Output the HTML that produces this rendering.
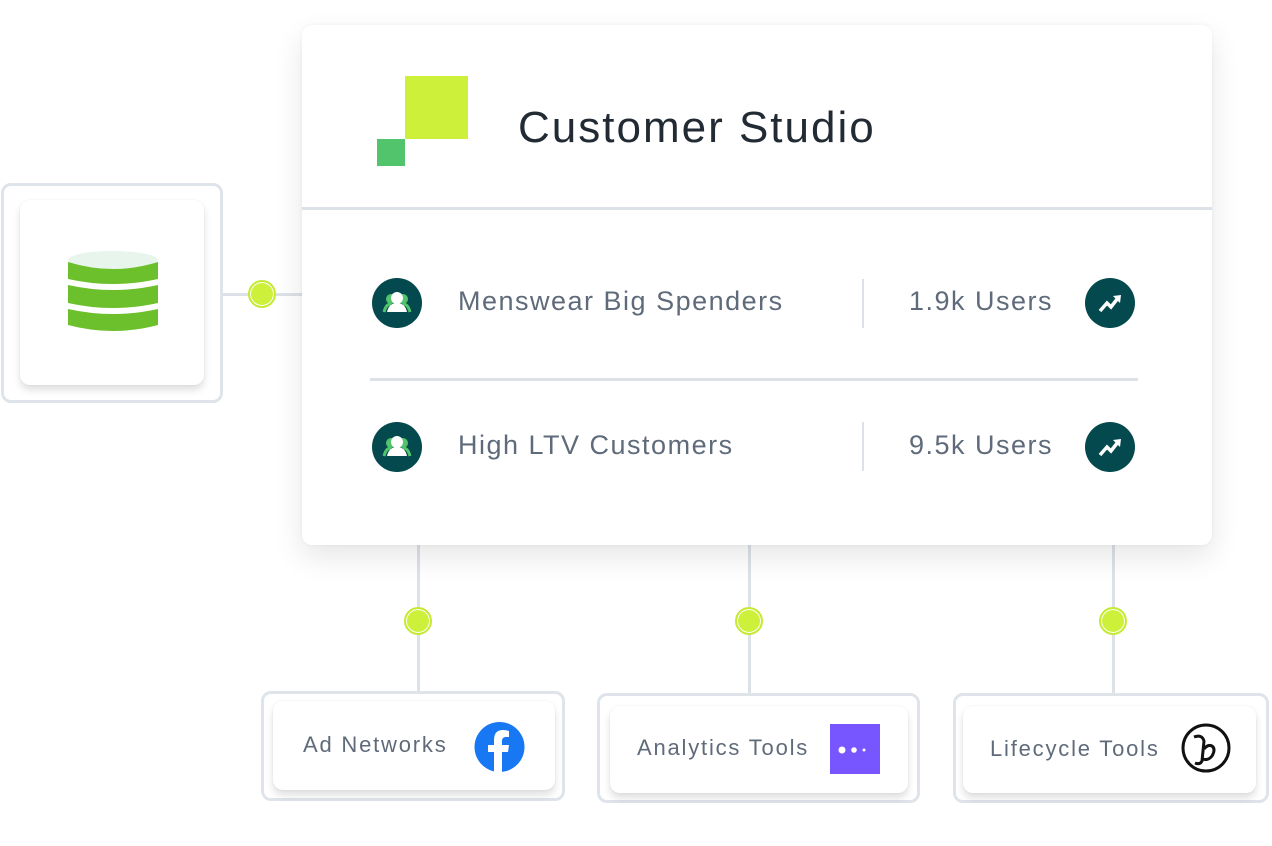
<!DOCTYPE html>
<html><head><meta charset="utf-8"><style>
body{margin:0;width:1272px;height:846px;background:#fff;position:relative;overflow:hidden;font-family:"Liberation Sans",sans-serif}
.a{position:absolute}
.outer{position:absolute;border:3px solid #dfe4ea;border-radius:10px;box-sizing:border-box;background:#fff}
.inner{position:absolute;background:#fff;border-radius:10px;box-shadow:0 5px 8px rgba(0,0,0,0.13),0 0 2px rgba(0,0,0,0.06);box-sizing:border-box}
.line{position:absolute;background:#dde2e8}
.dot{position:absolute;width:28px;height:28px;border-radius:50%;background:#cdf03a;border:2px solid #c6e936;box-shadow:inset 0 0 0 1px #fff;box-sizing:border-box}
.lbl{position:absolute;color:#5f6b7a;font-size:22px;letter-spacing:1.8px;white-space:nowrap}
.row{position:absolute;color:#5f6b7a;font-size:27px;letter-spacing:1.5px;white-space:nowrap}
.ic{position:absolute;width:50px;height:50px;border-radius:50%;background:#04494d}
</style></head><body>
<div class="line" style="left:222px;top:293px;width:82px;height:3px"></div>
<div class="line" style="left:417px;top:540px;width:3px;height:152px"></div>
<div class="line" style="left:748px;top:540px;width:3px;height:154px"></div>
<div class="line" style="left:1112px;top:540px;width:3px;height:154px"></div>

<div class="a" style="left:302px;top:25px;width:910px;height:520px;background:#fff;border-radius:10px;box-shadow:0 12px 30px rgba(0,0,0,0.10),0 0 4px rgba(0,0,0,0.05)"></div>
<div class="a" style="left:405px;top:76px;width:63px;height:63px;background:#cdf03a"></div>
<div class="a" style="left:377px;top:139px;width:28px;height:27px;background:#52c46b"></div>
<div class="a" style="left:518px;top:101px;font-size:44px;letter-spacing:2px;color:#222b33;line-height:54px;white-space:nowrap">Customer Studio</div>
<div class="line" style="left:302px;top:207px;width:910px;height:3px"></div>
<div class="line" style="left:370px;top:378px;width:768px;height:3px"></div>
<div class="line" style="left:862px;top:279px;width:2px;height:49px"></div>
<div class="line" style="left:862px;top:422px;width:2px;height:49px"></div>

<div class="ic" style="left:372px;top:278px"><svg width="50" height="50" viewBox="0 0 50 50"><circle cx="19" cy="21" r="5" fill="#52c46b"/><circle cx="31" cy="21" r="5" fill="#52c46b"/><path d="M12 34 q2-8 7-8 M38 34 q-2-8-7-8" stroke="#52c46b" stroke-width="3" fill="none"/><circle cx="25" cy="20" r="6" fill="#fff"/><path d="M15 34 q2-9 10-9 q8 0 10 9z" fill="#fff"/></svg></div>
<div class="ic" style="left:372px;top:422px"><svg width="50" height="50" viewBox="0 0 50 50"><circle cx="19" cy="21" r="5" fill="#52c46b"/><circle cx="31" cy="21" r="5" fill="#52c46b"/><path d="M12 34 q2-8 7-8 M38 34 q-2-8-7-8" stroke="#52c46b" stroke-width="3" fill="none"/><circle cx="25" cy="20" r="6" fill="#fff"/><path d="M15 34 q2-9 10-9 q8 0 10 9z" fill="#fff"/></svg></div>
<div class="row" style="left:458px;top:286px">Menswear Big Spenders</div>
<div class="row" style="left:458px;top:430px">High LTV Customers</div>
<div class="row" style="left:909px;top:286px">1.9k Users</div>
<div class="row" style="left:909px;top:430px">9.5k Users</div>
<div class="ic" style="left:1085px;top:278px"><svg width="50" height="50" viewBox="0 0 50 50"><path d="M15 33 L22 25 L26 29 L33 20" stroke="#fff" stroke-width="3.5" fill="none"/><path d="M28 18 L36 17 L35 25z" fill="#fff"/></svg></div>
<div class="ic" style="left:1085px;top:422px"><svg width="50" height="50" viewBox="0 0 50 50"><path d="M15 33 L22 25 L26 29 L33 20" stroke="#fff" stroke-width="3.5" fill="none"/><path d="M28 18 L36 17 L35 25z" fill="#fff"/></svg></div>

<div class="outer" style="left:1px;top:183px;width:222px;height:220px"></div>
<div class="inner" style="left:20px;top:200px;width:184px;height:185px"></div>
<svg class="a" style="left:66px;top:250px" width="94" height="85" viewBox="0 0 94 85"><ellipse cx="47" cy="10" rx="45" ry="9" fill="#e8f5ec"/><path d="M2 12 q45 14 90 0 v17 q-45 10-90 0z" fill="#6cc02b"/><path d="M2 35 q45 10 90 0 v18 q-45 10-90 0z" fill="#6cc02b"/><path d="M2 59 q45 10 90 0 v16 q-45 12-90 0z" fill="#6cc02b"/></svg>
<div class="dot" style="left:248px;top:280px"></div>

<div class="dot" style="left:404px;top:607px"></div>
<div class="dot" style="left:735px;top:607px"></div>
<div class="dot" style="left:1099px;top:607px"></div>

<div class="outer" style="left:261px;top:691px;width:304px;height:110px"></div>
<div class="inner" style="left:273px;top:701px;width:282px;height:89px"></div>
<div class="lbl" style="left:303px;top:732px">Ad Networks</div>
<svg class="a" style="left:473px;top:722px" width="53" height="50" viewBox="0 0 53 50"><circle cx="26.5" cy="25" r="25" fill="#1877f2"/><path d="M29 50 V30 h6 l1-7 h-7 v-4 q0-4 4-4 h3 v-6 q-3-1-6-1 q-9 0-9 10 v5 h-6 v7 h6 v20z" fill="#fff"/></svg>

<div class="outer" style="left:597px;top:693px;width:323px;height:110px"></div>
<div class="inner" style="left:610px;top:706px;width:298px;height:87px"></div>
<div class="lbl" style="left:637px;top:735px">Analytics Tools</div>
<div class="a" style="left:830px;top:724px;width:50px;height:50px;background:#7856ff"><svg width="50" height="50"><circle cx="12" cy="26" r="3.5" fill="#fff"/><circle cx="24" cy="26" r="2.8" fill="#fff"/><circle cx="34" cy="26" r="1.5" fill="#fff"/></svg></div>

<div class="outer" style="left:953px;top:693px;width:316px;height:110px"></div>
<div class="inner" style="left:963px;top:706px;width:293px;height:87px"></div>
<div class="lbl" style="left:990px;top:736px">Lifecycle Tools</div>
<svg class="a" style="left:1180px;top:723px" width="52" height="50" viewBox="0 0 52 50"><circle cx="26" cy="25" r="23" fill="none" stroke="#111" stroke-width="3"/><path d="M14 14 q8-3 10 4 l-2 20 q-2 4-7 2 M24 26 q4-5 8-3 q4 3 0 10 q-4 5-9 3" fill="none" stroke="#111" stroke-width="3"/></svg>
</body></html>
